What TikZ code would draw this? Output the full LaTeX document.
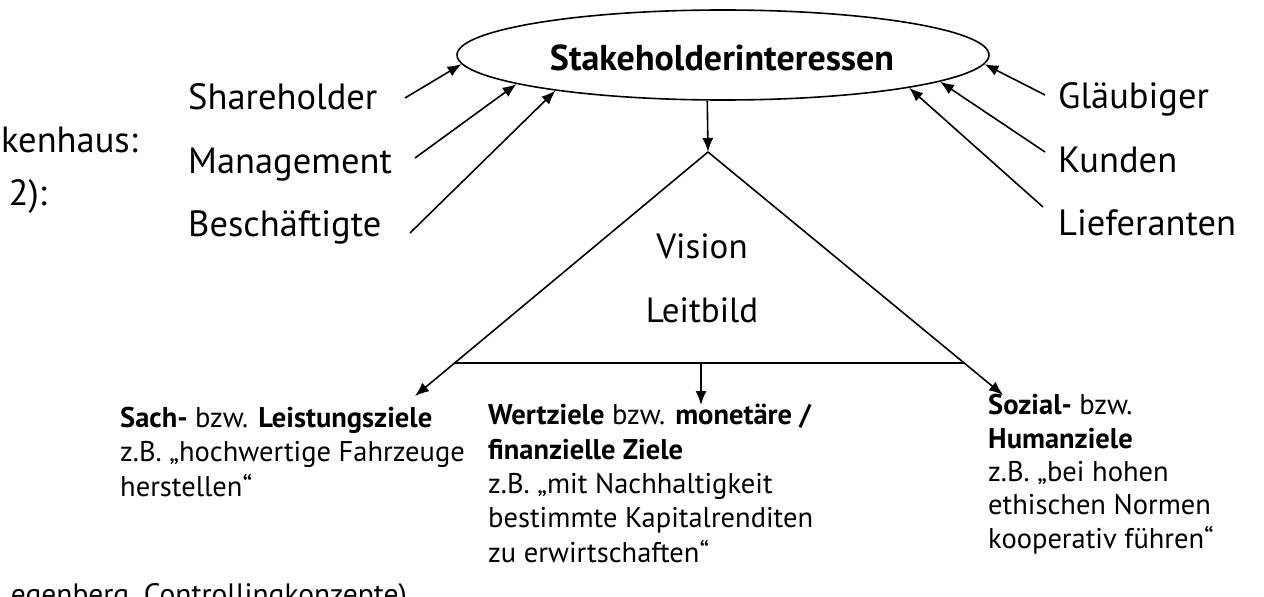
\documentclass[tikz,border=0pt]{standalone}
\usepackage{fontspec}
\setmainfont{PT Sans}
\usetikzlibrary{arrows.meta,shapes.geometric}
\begin{document}
\begin{tikzpicture}[x=1pt,y=-1pt,
  arr/.style={-{Latex[length=14pt,width=11pt]}, line width=1.6pt},
  ln/.style={line width=1.6pt},
  lbl/.style={font=\fontsize{36.5}{42}\selectfont, inner sep=0pt, anchor=base west},
  cut/.style={font=\fontsize{36.5}{42}\selectfont, inner sep=0pt, anchor=base east},
  goal/.style={font=\fontsize{28.5}{34.3}\selectfont, inner sep=0pt, align=left, anchor=base west}]
\useasboundingbox (0,0) rectangle (1264,597);
\clip (0,0) rectangle (1264,597);

% cropped margin texts
\node[cut] (kh) at (138,152) {kenhaus:};
\node[cut] (zw) at (47,205) {2):};
\node[font=\fontsize{29.5}{34}\selectfont, inner sep=0pt, anchor=base east] (src) at (407,604) {egenberg, Controllingkonzepte)};

% central ellipse
\node[draw, ellipse, ln, minimum width=532pt, minimum height=90pt, inner sep=0pt] (stake) at (723,55) {};
\node[font=\bfseries\fontsize{36}{42}\selectfont, inner sep=0pt, anchor=base] (staketext) at (722,70) {Stakeholderinteressen};

% stakeholder labels
\node[lbl] (sh) at (188,109) {Shareholder};
\node[lbl] (ma) at (188,173) {Management};
\node[lbl] (be) at (188,236) {Beschäftigte};
\node[lbl] (gl) at (1058,108) {Gläubiger};
\node[lbl] (ku) at (1058,172) {Kunden};
\node[lbl] (li) at (1058,235) {Lieferanten};

\coordinate (shS) at (405,98);
\coordinate (maS) at (415,158);
\coordinate (beS) at (410,233);
\coordinate (glS) at (1045,95);
\coordinate (kuS) at (1045,152);
\coordinate (liS) at (1043,207);

\draw[arr] (shS) -- (stake.182.2);
\draw[arr] (maS) -- (stake.188.8);
\draw[arr] (beS) -- (stake.192.1);
\draw[arr] (glS) -- (stake.358.5);
\draw[arr] (kuS) -- (stake.353.7);
\draw[arr] (liS) -- (stake.350.1);

% triangle
\coordinate (apex) at (708,152);
\coordinate (bl) at (455,363);
\coordinate (br) at (964,363);
\coordinate (bm) at (701,363);
\coordinate (ltip) at (415,396);
\coordinate (rtip) at (1003,395);
\coordinate (mtip) at (701,405);

\draw[arr] (stake.251.5) -- (apex);
\draw[arr] (apex) -- (ltip);
\draw[arr] (apex) -- (rtip);
\draw[ln] (bl) -- (br);
\draw[arr] (bm) -- (mtip);

\node[font=\fontsize{35}{42}\selectfont, inner sep=0pt, anchor=base] (vis) at (702,258) {Vision};
\node[font=\fontsize{35}{42}\selectfont, inner sep=0pt, anchor=base] (lb) at (702,322) {Leitbild};

% goal blocks (anchor = baseline of last line)
\node[goal, font=\fontsize{28.5}{34.5}\selectfont] (sach) at (120,496) {\textbf{Sach-} bzw. \textbf{Leistungsziele}\\z.B. „hochwertige Fahrzeuge\\herstellen“};
\node[goal] (wert) at (488,562) {\textbf{Wertziele} bzw. \textbf{monetäre /}\\\textbf{finanzielle Ziele}\\z.B. „mit Nachhaltigkeit\\bestimmte Kapitalrenditen\\zu erwirtschaften“};
\node[goal, font=\fontsize{28.5}{33.3}\selectfont] (sozial) at (988,548) {\textbf{Sozial-} bzw.\\\textbf{Humanziele}\\z.B. „bei hohen\\ethischen Normen\\kooperativ führen“};
\end{tikzpicture}
\end{document}
